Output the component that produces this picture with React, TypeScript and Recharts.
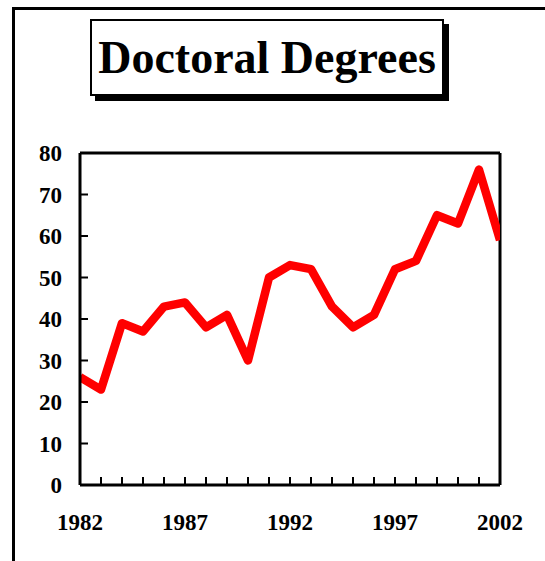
import { LineChart, Line, XAxis, YAxis, ReferenceLine } from 'recharts';

const years = [1982, 1983, 1984, 1985, 1986, 1987, 1988, 1989, 1990, 1991, 1992, 1993, 1994, 1995, 1996, 1997, 1998, 1999, 2000, 2001, 2002];
const degrees = [26, 23, 39, 37, 43, 44, 38, 41, 30, 50, 53, 52, 43, 38, 41, 52, 54, 65, 63, 76, 59];
const yTicks = [0, 10, 20, 30, 40, 50, 60, 70, 80];
const labelledYears = [1982, 1987, 1992, 1997, 2002];

const FONT = '"Liberation Serif", "Times New Roman", serif';

const data = years.map((year, i) => ({ year, value: degrees[i] }));

function XTick(props: any) {
  const { x, y, payload } = props;
  const showLabel = labelledYears.includes(payload.value);
  return (
    <g>
      <line x1={x} y1={y} x2={x} y2={y - 8} stroke="#000" strokeWidth={2} />
      {showLabel && (
        <text x={x} y={y + 45} textAnchor="middle" fontFamily={FONT} fontWeight="bold" fontSize={23} fill="#000">
          {payload.value}
        </text>
      )}
    </g>
  );
}

function YTick(props: any) {
  const { x, y, payload } = props;
  return (
    <g>
      <line x1={x} y1={y} x2={x + 8} y2={y} stroke="#000" strokeWidth={2} />
      <text x={x - 18} y={y} dy="0.35em" textAnchor="end" fontFamily={FONT} fontWeight="bold" fontSize={23} fill="#000">
        {payload.value}
      </text>
    </g>
  );
}

export default function App() {
  return (
    <div style={{ position: 'absolute', left: 0, top: 0, width: 545, height: 561, background: '#fff', overflow: 'hidden' }}>
      <div
        style={{
          position: 'absolute',
          left: 12,
          top: 7,
          width: 600,
          height: 600,
          borderLeft: '3px solid #000',
          borderTop: '3px solid #000',
        }}
      />
      <div
        style={{
          position: 'absolute',
          left: 90,
          top: 19,
          width: 350,
          height: 73,
          border: '2px solid #000',
          boxShadow: '5px 5px 0 #000',
          background: '#fff',
          display: 'flex',
          alignItems: 'center',
          justifyContent: 'center',
          fontFamily: FONT,
          fontWeight: 'bold',
          fontSize: 46,
          lineHeight: 1,
          color: '#000',
        }}
      >
        Doctoral Degrees
      </div>
      <div style={{ position: 'absolute', left: 0, top: 0 }}>
        <LineChart width={545} height={561} data={data} margin={{ top: 153, right: 45, bottom: 36, left: 0 }}>
          <XAxis
            dataKey="year"
            type="number"
            domain={[1982, 2002]}
            ticks={years}
            interval={0}
            allowDataOverflow
            height={40}
            tickSize={0}
            tickMargin={0}
            tickLine={false}
            tick={<XTick />}
            axisLine={{ stroke: '#000', strokeWidth: 3 }}
          />
          <YAxis
            type="number"
            domain={[0, 80]}
            ticks={yTicks}
            interval={0}
            allowDataOverflow
            width={80}
            tickSize={0}
            tickMargin={0}
            tickLine={false}
            tick={<YTick />}
            axisLine={{ stroke: '#000', strokeWidth: 3 }}
          />
          <ReferenceLine y={80} stroke="#000" strokeWidth={3} />
          <ReferenceLine x={2002} stroke="#000" strokeWidth={3} />
          <Line
            dataKey="value"
            stroke="#ff0000"
            strokeWidth={8.5}
            strokeLinejoin="round"
            dot={false}
            activeDot={false}
            isAnimationActive={false}
          />
        </LineChart>
      </div>
    </div>
  );
}
